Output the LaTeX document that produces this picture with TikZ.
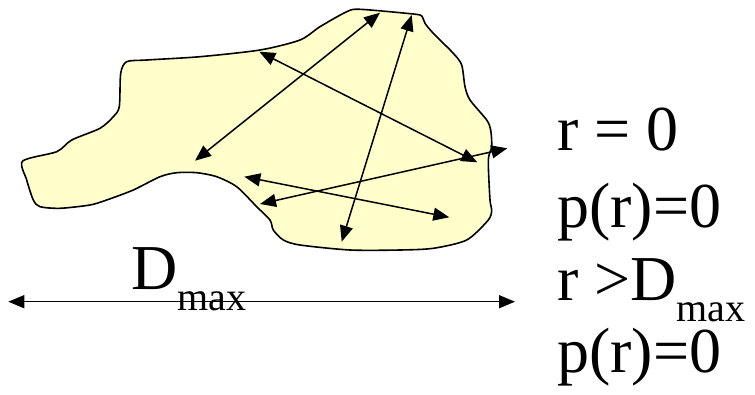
\documentclass[tikz,border=0pt]{standalone}
\usepackage{fontspec}
\setmainfont{Liberation Serif}
\usetikzlibrary{arrows.meta,positioning}
\definecolor{blobfill}{RGB}{255,255,204}
\newcommand{\dmax}{D\raisebox{-21pt}{\fontsize{40}{40}\selectfont max}}

\begin{document}
\begin{tikzpicture}[
    x=1pt, y=-1pt,
    blob/.style={draw, fill=blobfill, line width=1.6pt, line join=round},
    arrow/.style={{Triangle[length=16pt,width=13pt]}-{Triangle[length=16pt,width=13pt]}, line width=1.5pt},
    txt/.style={anchor=base west, inner sep=0pt, font=\fontsize{64}{75}\selectfont}
]
\useasboundingbox (0,0) rectangle (755,394);

% particle outline
\draw[blob] plot[smooth cycle, tension=0.45] coordinates {
    (22.7,161) (56.7,151.7) (71.7,140) (100,128.3) (113.3,116.7) (119.3,106.7)
    (120.7,73.3) (126.7,61.7) (146.7,60) (200,56.7) (260,50) (300,40)
    (320,26.7) (346.7,11.7) (360,9.3) (413.3,14) (421.7,16) (425,23.3)
    (433.3,33.3) (453.3,53.3) (461.7,65) (465,86.7) (470,100) (486.7,120)
    (490.7,130) (491.7,146.7) (488.3,160) (490,200) (491.7,210) (488.3,220)
    (466.7,240) (433.3,248.3) (400,250) (350,250) (300,245) (283.3,240)
    (273.3,230) (270,220) (256.7,206.7) (236.7,186.7) (216.7,176.7)
    (196.7,172.7) (176.7,172.7) (160,176.7) (133.3,190) (106.7,200)
    (90,205) (60,208.3) (40,206.7) (33.3,200) (26.7,180)};

% distances inside the particle
\coordinate (a1) at (380,12.7);
\coordinate (a2) at (195,160.7);
\coordinate (b1) at (411.7,15);
\coordinate (b2) at (341.7,241.7);
\coordinate (c1) at (259.3,51.7);
\coordinate (c2) at (477.3,162.3);
\coordinate (d1) at (260,204);
\coordinate (d2) at (507.3,148.3);
\coordinate (e1) at (244.3,176.7);
\coordinate (e2) at (449.3,217.3);
\draw[arrow] (a1) -- (a2);
\draw[arrow] (b1) -- (b2);
\draw[arrow] (c1) -- (c2);
\draw[arrow] (d1) -- (d2);
\draw[arrow] (e1) -- (e2);

% maximum dimension
\coordinate (dl) at (8.3,301.7);
\coordinate (dr) at (515,301.7);
\draw[arrow] (dl) -- (dr);
\node[txt] (dlabel) at (131,289) {\dmax};

% conditions
\node[txt] (r0) at (557,150.7) {r = 0};
\node[txt] (p0) at (557,227.5) {p(r)=0};
\node[txt] (rd) at (557,300.5) {r >\dmax};
\node[txt] (p1) at (557,372.5) {p(r)=0};
\end{tikzpicture}
\end{document}
